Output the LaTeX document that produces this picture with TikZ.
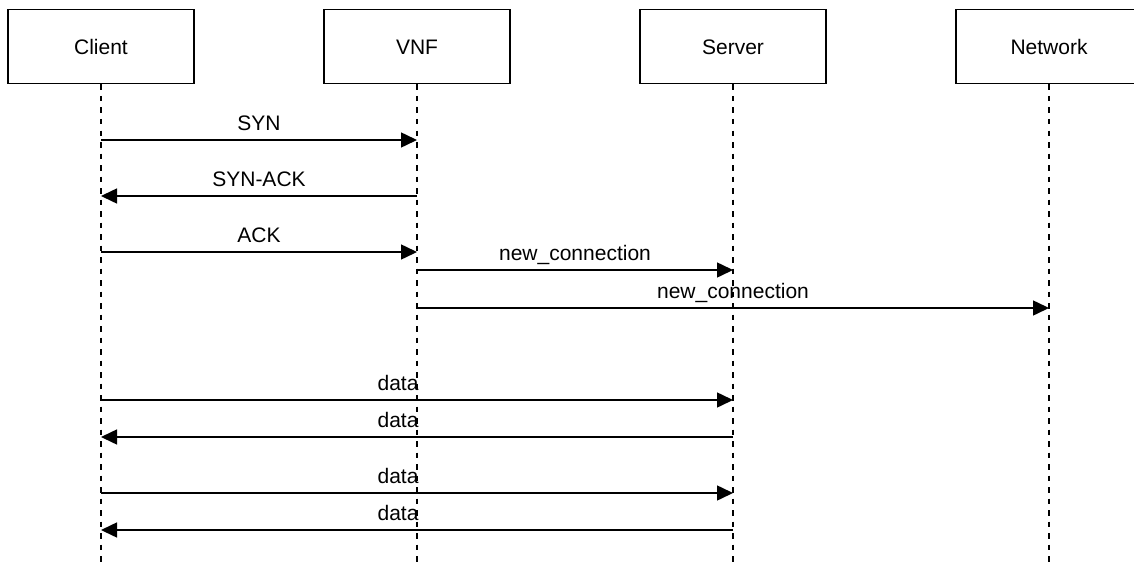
\documentclass[tikz,border=0pt]{standalone}
\usepackage{fontspec}
\setmainfont{Liberation Sans}
\usetikzlibrary{arrows.meta}
\begin{document}
\begin{tikzpicture}[x=1pt,y=-1pt,
  font=\fontsize{21}{25}\selectfont,
  actor/.style={draw, line width=1.5pt, minimum width=186pt, minimum height=74pt,
    inner sep=0pt, text height=15pt, text depth=0pt, anchor=north},
  lifeline/.style={line width=1.6pt, dash pattern=on 5.5pt off 6pt},
  msg/.style={line width=1.5pt, -{Triangle[length=16pt,width=15pt]}},
  lbl/.style={anchor=base, inner sep=0pt, yshift=10pt}]
  \useasboundingbox (0,0) rectangle (1134,567);
  \clip (0,0) rectangle (1134,567);

  % participants
  \node[actor] (client)  at (101,9)  {Client};
  \node[actor] (vnf)     at (417,9)  {VNF};
  \node[actor] (server)  at (733,9)  {Server};
  \node[actor] (network) at (1049,9) {Network};

  % lifelines run to the bottom edge
  \foreach \p in {client,vnf,server,network}
    \draw[lifeline] (\p.south) -- (\p.south |- {0,572});

  % handshake
  \draw[msg] (client.south |- {0,140}) -- node[lbl]{SYN} (vnf.south |- {0,140});
  \draw[msg] (vnf.south |- {0,196}) -- node[lbl]{SYN-ACK} (client.south |- {0,196});
  \draw[msg] (client.south |- {0,252}) -- node[lbl]{ACK} (vnf.south |- {0,252});

  % connection notifications
  \draw[msg] (vnf.south |- {0,270}) -- node[lbl]{new\_connection} (server.south |- {0,270});
  \draw[msg] (vnf.south |- {0,308}) -- node[lbl]{new\_connection} (network.south |- {0,308});

  % data exchange
  \draw[msg] (client.south |- {0,400}) -- node[lbl,pos=0.47]{data} (server.south |- {0,400});
  \draw[msg] (server.south |- {0,437}) -- node[lbl,pos=0.53]{data} (client.south |- {0,437});
  \draw[msg] (client.south |- {0,493}) -- node[lbl,pos=0.47]{data} (server.south |- {0,493});
  \draw[msg] (server.south |- {0,530}) -- node[lbl,pos=0.53]{data} (client.south |- {0,530});
\end{tikzpicture}
\end{document}
